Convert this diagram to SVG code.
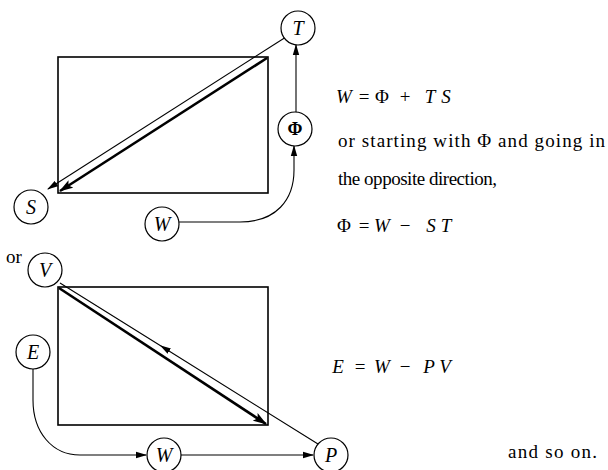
<svg xmlns="http://www.w3.org/2000/svg" width="608" height="470" viewBox="0 0 608 470">
<defs>
<style>
.node circle{fill:#fff;stroke:#000;stroke-width:1.2}
.lbl{font-family:"Liberation Serif","DejaVu Serif",serif;font-size:20px;font-style:italic;text-anchor:middle;fill:#000}
.up{font-style:normal;font-weight:bold;font-size:18px}
.txt{font-family:"Liberation Serif","DejaVu Serif",serif;font-size:19px;fill:#000}
.eq{font-family:"Liberation Serif","DejaVu Serif",serif;font-size:19px;fill:#000;text-anchor:middle}
.it{font-style:italic}
.box{fill:none;stroke:#000;stroke-width:1.6}
.thin{fill:none;stroke:#000;stroke-width:1.1}
.thick{fill:none;stroke:#000;stroke-width:2.6}
</style>
<marker id="ah" markerUnits="userSpaceOnUse" markerWidth="11" markerHeight="8" refX="10" refY="4" orient="auto">
<path d="M0,0.8 L11,4 L0,7.2 Z" fill="#000"/>
</marker>
<marker id="ahm" markerUnits="userSpaceOnUse" markerWidth="11" markerHeight="8" refX="5" refY="4" orient="auto">
<path d="M0,0.8 L11,4 L0,7.2 Z" fill="#000"/>
</marker>
<marker id="ahb" markerUnits="userSpaceOnUse" markerWidth="14" markerHeight="10" refX="13" refY="5" orient="auto">
<path d="M0,0.5 L14,5 L0,9.5 L3,5 Z" fill="#000"/>
</marker>
</defs>
<rect class="box" x="58" y="57" width="210" height="136"/>
<rect class="box" x="58" y="287" width="210" height="138"/>
<g id="connectors">
<line class="thin" x1="286" y1="37" x2="48" y2="189" marker-end="url(#ah)"/>
<line class="thick" x1="267" y1="58" x2="60" y2="191" marker-end="url(#ahb)"/>
<line class="thin" x1="296" y1="113" x2="296" y2="45" marker-end="url(#ah)"/>
<path class="thin" d="M179,222 H240 C276,222 294,200 294,170 V146" marker-end="url(#ah)"/>
<polyline class="thin" points="318,444 165,348.5 60,283" marker-mid="url(#ahm)"/>
<line class="thick" x1="59" y1="288" x2="266" y2="424" marker-end="url(#ahb)"/>
<path class="thin" d="M33,369 V400 C33,432 52,455 80,455 H146" marker-end="url(#ah)"/>
<line class="thin" x1="181" y1="455" x2="313" y2="455" marker-end="url(#ah)"/>
</g>
<g id="T" class="node"><circle cx="298" cy="28" r="17"/><text class="lbl" x="298" y="35">T</text></g>
<g id="Phi" class="node"><circle cx="295" cy="129" r="17"/><text class="lbl up" x="295" y="135">Φ</text></g>
<g id="S" class="node"><circle cx="31" cy="207" r="17"/><text class="lbl" x="31" y="214">S</text></g>
<g id="W1" class="node"><circle cx="162" cy="224" r="17"/><text class="lbl" x="162" y="231">W</text></g>
<g id="V" class="node"><circle cx="45" cy="270" r="17"/><text class="lbl" x="45" y="277">V</text></g>
<g id="E" class="node"><circle cx="33" cy="352" r="17"/><text class="lbl" x="33" y="359">E</text></g>
<g id="W2" class="node"><circle cx="164" cy="455" r="17"/><text class="lbl" x="164" y="462">W</text></g>
<g id="P" class="node"><circle cx="331" cy="455" r="17"/><text class="lbl" x="331" y="462">P</text></g>
<text class="eq" y="103"><tspan class="it" x="344">W</tspan><tspan x="364">=</tspan><tspan x="382">Φ</tspan><tspan x="405">+</tspan><tspan class="it" x="430">T</tspan><tspan class="it" x="446">S</tspan></text>
<text class="txt" x="338" y="147" textLength="267" lengthAdjust="spacing">or starting with Φ and going in</text>
<text class="txt" x="338" y="185" textLength="159" lengthAdjust="spacing">the opposite direction,</text>
<text class="eq" y="232"><tspan x="344">Φ</tspan><tspan x="364">=</tspan><tspan class="it" x="382">W</tspan><tspan x="405">−</tspan><tspan class="it" x="431">S</tspan><tspan class="it" x="446">T</tspan></text>
<text class="txt" x="6" y="263">or</text>
<text class="eq" y="373"><tspan class="it" x="338">E</tspan><tspan x="360">=</tspan><tspan class="it" x="382">W</tspan><tspan x="405">−</tspan><tspan class="it" x="429">P</tspan><tspan class="it" x="445">V</tspan></text>
<text class="txt" x="508" y="458" textLength="89" lengthAdjust="spacing">and so on.</text>
</svg>
